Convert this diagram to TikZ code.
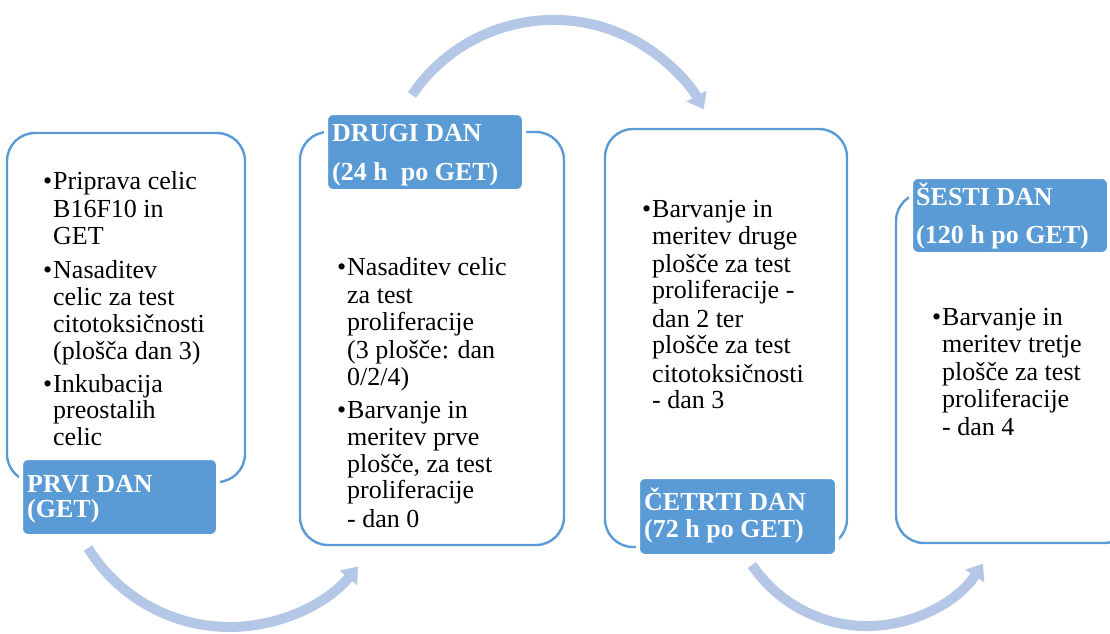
\documentclass[tikz,border=0pt]{standalone}
\usepackage{fontspec}
\setmainfont{Liberation Serif}
\usetikzlibrary{arrows.meta}
\definecolor{boxblue}{HTML}{5B9BD5}
\definecolor{arrblue}{HTML}{B4C7E7}
\newcommand\bul{\llap{•\kern1pt}}
\begin{document}
\begin{tikzpicture}[x=1pt,y=-1pt,
  dayframe/.style={draw=boxblue, line width=2.4pt, rounded corners=28pt, fill=white},
  daytag/.style={fill=boxblue, draw=white, line width=4pt, rounded corners=7pt},
  txt/.style={inner sep=0pt, anchor=base west, font=\fontsize{26}{28}\selectfont},
  ltxt/.style={inner sep=0pt, anchor=base west, text=white, font=\fontsize{26}{28}\selectfont\bfseries},
  flow/.style={draw=arrblue, line width=10pt, -{Triangle[length=15pt,width=22pt]}}]
\useasboundingbox (0,0) rectangle (1110,633);
\clip (0,0) rectangle (1110,633);
% frames
\draw[dayframe] (7,133) rectangle (245,482);
\draw[dayframe] (300,132) rectangle (564,545);
\draw[dayframe] (605,129) rectangle (847,547);
\draw[dayframe] (896,193) rectangle (1132,543);
% day tags
\draw[daytag] (21,458) rectangle (218,536);
\draw[daytag] (326,113) rectangle (524,191);
\draw[daytag] (638,477) rectangle (837,556);
\draw[daytag] (911,177) rectangle (1109,254);
% tag texts
\node[ltxt] (l1a) at (27,492) {PRVI DAN};
\node[ltxt] (l1b) at (27,517) {(GET)};
\node[ltxt] (l2a) at (332,141) {DRUGI DAN};
\node[ltxt] (l2b) at (332,180) {(24 h\ \ po GET)};
\node[ltxt] (l3a) at (644,510) {ČETRTI DAN};
\node[ltxt] (l3b) at (644,537) {(72 h po GET)};
\node[ltxt] (l4a) at (916,205) {ŠESTI DAN};
\node[ltxt] (l4b) at (916,243) {(120 h po GET)};
% box 1 text
\node[txt] (t1a) at (53,189) {\bul Priprava celic};
\node[txt] (t1b) at (53,217) {B16F10 in};
\node[txt] (t1c) at (53,244) {GET};
\node[txt] (t1d) at (53,278) {\bul Nasaditev};
\node[txt] (t1e) at (53,305) {celic za test};
\node[txt] (t1f) at (53,332) {citotoksičnosti};
\node[txt] (t1g) at (53,359) {(plošča dan 3)};
\node[txt] (t1h) at (53,392) {\bul Inkubacija};
\node[txt] (t1i) at (53,418) {preostalih};
\node[txt] (t1j) at (53,445) {celic};
% box 2 text
\node[txt] (t2a) at (347,275) {\bul Nasaditev celic};
\node[txt] (t2b) at (347,303) {za test};
\node[txt] (t2c) at (347,330) {proliferacije};
\node[txt] (t2d) at (347,358) {(3 plošče: dan};
\node[txt] (t2e) at (347,385) {0/2/4)};
\node[txt] (t2f) at (347,418) {\bul Barvanje in};
\node[txt] (t2g) at (347,445) {meritev prve};
\node[txt] (t2h) at (347,472) {plošče, za test};
\node[txt] (t2i) at (347,498) {proliferacije};
\node[txt] (t2j) at (347,527) {- dan 0};
% box 3 text
\node[txt] (t3a) at (652,217) {\bul Barvanje in};
\node[txt] (t3b) at (652,244) {meritev druge};
\node[txt] (t3c) at (652,272) {plošče za test};
\node[txt] (t3d) at (652,298) {proliferacije -};
\node[txt] (t3e) at (652,327) {dan 2 ter};
\node[txt] (t3f) at (652,353) {plošče za test};
\node[txt] (t3g) at (652,382) {citotoksičnosti};
\node[txt] (t3h) at (652,408) {- dan 3};
% box 4 text
\node[txt] (t4a) at (942,325) {\bul Barvanje in};
\node[txt] (t4b) at (942,352) {meritev tretje};
\node[txt] (t4c) at (942,380) {plošče za test};
\node[txt] (t4d) at (942,407) {proliferacije};
\node[txt] (t4e) at (942,435) {- dan 4};
% arrows
\coordinate (a1s) at (88,548);
\coordinate (a2s) at (412,95);
\coordinate (a3s) at (752,565);
\draw[flow] (a1s) arc[start angle=148.3, end angle=39.5, radius=166.4];
\draw[flow] (a2s) arc[start angle=214.1, end angle=331.5, radius=170.9];
\draw[flow] (a3s) arc[start angle=145.9, end angle=33.4, radius=138.9];
\end{tikzpicture}
\end{document}
